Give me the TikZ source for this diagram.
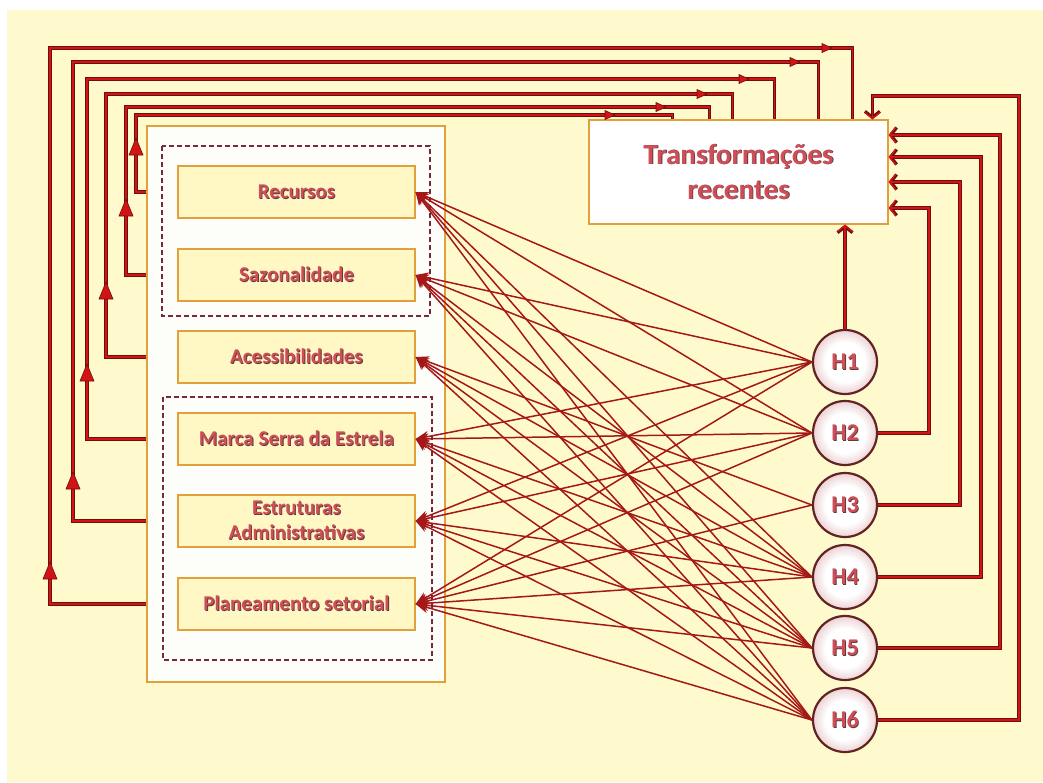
\documentclass[tikz,border=0pt]{standalone}
\usepackage{fontspec}
\setmainfont{Carlito}
\usetikzlibrary{arrows.meta}

\definecolor{bgyellow}{RGB}{255,250,205}
\definecolor{boxfill}{RGB}{255,247,196}
\definecolor{boxedge}{RGB}{226,160,60}
\definecolor{panelfill}{RGB}{253,253,250}
\definecolor{dashc}{RGB}{120,40,60}
\definecolor{linkred}{RGB}{165,24,24}
\definecolor{fbred}{RGB}{210,20,20}
\definecolor{fbdark}{RGB}{110,15,15}
\definecolor{txtred}{RGB}{208,78,88}
\definecolor{txtshadow}{RGB}{95,60,60}
\definecolor{ringc}{RGB}{100,35,35}
\definecolor{ballpink}{RGB}{238,214,216}

% white disc fading to pink at the rim
\pgfdeclareradialshading{hypball}{\pgfpoint{0cm}{0cm}}{%
  color(0cm)=(white); color(0.55cm)=(white); color(0.85cm)=(ballpink); color(1cm)=(ballpink)}

% text with a small dark drop shadow
\newcommand\embossed[1]{\leavevmode\rlap{\hspace{0.9pt}\raisebox{-0.9pt}{\textcolor{txtshadow}{#1}}}\textcolor{txtred}{#1}}
% mid-path arrow marks of the feedback loops
\newcommand\uptri[2]{\filldraw[midtip] (#1,#2) -- (#1-7,#2+17) -- (#1+7,#2+17) -- cycle;}
\newcommand\righttri[2]{\filldraw[midtip] (#1,#2) -- (#1-10,#2-4.5) -- (#1-10,#2+4.5) -- cycle;}

\begin{document}
\begin{tikzpicture}[x=1pt,y=-1pt,
  factor/.style={draw=boxedge, line width=1.2pt, fill=boxfill, minimum width=237pt,
    minimum height=52pt, inner sep=0pt, align=center,
    font=\bfseries\fontsize{21}{25}\selectfont},
  hyp/.style={circle, draw=ringc, line width=2.2pt, shading=hypball,
    minimum size=64pt, inner sep=0pt,
    font=\bfseries\fontsize{24}{26}\selectfont},
  grouping/.style={draw=dashc, line width=1.3pt, dash pattern=on 5pt off 3pt},
  link/.style={draw=linkred, line width=1.5pt, -{Stealth[length=13pt,width=11pt]}},
  fb/.style={draw=fbred, line width=1.4pt, preaction={draw=fbdark, line width=3.2pt}},
  fbin/.style={fb, -{Straight Barb[length=6pt,width=15pt]}},
  midtip/.style={fill=fbred, draw=fbdark, line width=0.6pt, line join=miter}]

\useasboundingbox (0,0) rectangle (1043,782);
\fill[white] (0,0) rectangle (1043,782);
\fill[bgyellow] (7,10) rectangle (1043,782);

% left panel with the six factors
\node[draw=boxedge, line width=1.2pt, fill=panelfill, minimum width=298pt,
  minimum height=556pt, inner sep=0pt] (panel) at (296,404) {};
\draw[grouping] (162,146) rectangle (430,316);
\draw[grouping] (163,397) rectangle (432,660);

\node[factor] (rec) at (296.5,192) {\embossed{Recursos}};
\node[factor] (saz) at (296.5,275) {\embossed{Sazonalidade}};
\node[factor] (ace) at (296.5,357) {\embossed{Acessibilidades}};
\node[factor] (mar) at (296.5,439) {\embossed{Marca Serra da Estrela}};
\node[factor] (est) at (296.5,521) {\embossed{Estruturas}\\\embossed{Administrativas}};
\node[factor] (pla) at (296.5,604) {\embossed{Planeamento setorial}};

% target box
\node[draw=boxedge, line width=1.2pt, fill=white, minimum width=299pt,
  minimum height=104pt, inner sep=0pt, align=center,
  font=\bfseries\fontsize{29}{35}\selectfont] (trans) at (738.5,172)
  {\embossed{Transformações}\\\embossed{recentes}};

% hypotheses
\node[hyp] (h1) at (845,362) {\embossed{H1}};
\node[hyp] (h2) at (845,433) {\embossed{H2}};
\node[hyp] (h3) at (845,505) {\embossed{H3}};
\node[hyp] (h4) at (845,577) {\embossed{H4}};
\node[hyp] (h5) at (845,648) {\embossed{H5}};
\node[hyp] (h6) at (845,720) {\embossed{H6}};

% hypothesis -> factor links
\foreach \h/\f in {h1/rec,h1/saz,h1/mar,h1/est,h1/pla,
                   h2/rec,h2/saz,h2/mar,h2/est,h2/pla,
                   h3/ace,h3/pla,
                   h4/rec,h4/saz,h4/ace,h4/mar,h4/est,h4/pla,
                   h5/rec,h5/saz,h5/ace,h5/mar,h5/est,h5/pla,
                   h6/rec,h6/saz,h6/ace,h6/mar,h6/est,h6/pla}
  \draw[link] (\h.west) -- (\f.east);

% factors feed back into the target box (over the top)
\draw[fb] (panel.west |- rec) -| (136,115) -| ([xshift=84pt]trans.north west);
\draw[fb] (panel.west |- saz) -| (126,107) -| ([xshift=121pt]trans.north west);
\draw[fb] (panel.west |- ace) -| (106,94)  -| ([xshift=144pt]trans.north west);
\draw[fb] (panel.west |- mar) -| (87,79)   -| ([xshift=186pt]trans.north west);
\draw[fb] (panel.west |- est) -| (73,62)   -| ([xshift=230pt]trans.north west);
\draw[fb] (panel.west |- pla) -| (50,48)   -| ([xshift=264pt]trans.north west);

\uptri{136}{138} \uptri{126}{199} \uptri{106}{282}
\uptri{87}{364}  \uptri{73}{472}  \uptri{50}{562}
\righttri{615}{115} \righttri{666}{107} \righttri{707}{94}
\righttri{749}{79}  \righttri{800}{62}  \righttri{832}{48}

% hypotheses feed the target box (right side)
\draw[fbin] (h1.north) -- (trans.south -| h1.north);
\draw[fbin] (h2.east) -| (929,208) -- (trans.east |- 929,208);
\draw[fbin] (h3.east) -| (960,182) -- (trans.east |- 960,182);
\draw[fbin] (h4.east) -| (981,157) -- (trans.east |- 981,157);
\draw[fbin] (h5.east) -| (1000,135) -- (trans.east |- 1000,135);
\draw[fbin] (h6.east) -| (1019,96) -| ([xshift=284pt]trans.north west);
\end{tikzpicture}
\end{document}
